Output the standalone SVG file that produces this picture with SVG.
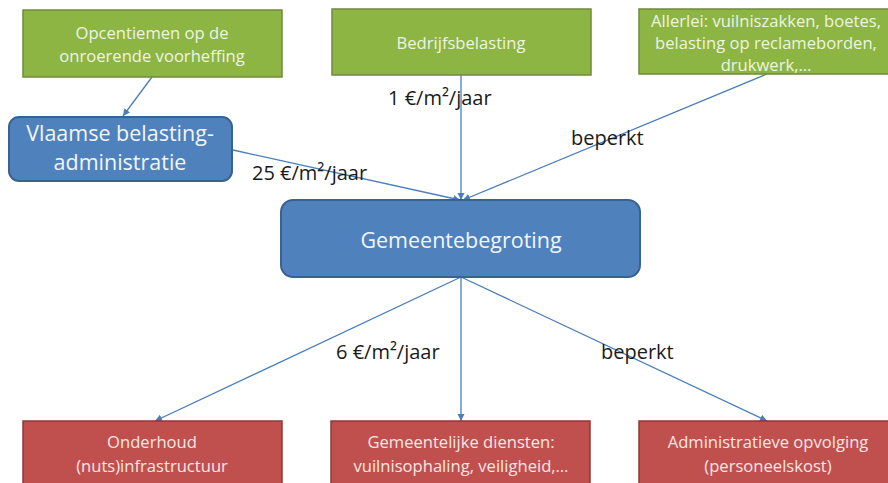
<svg xmlns="http://www.w3.org/2000/svg" width="888" height="483" viewBox="0 0 888 483">
<defs>
<marker id="ah" markerWidth="8" markerHeight="8" refX="7" refY="4" orient="auto" markerUnits="userSpaceOnUse">
<path d="M0,0.5 L7,4 L0,7.5 Z" fill="#4a7ebb"/>
</marker>
<style>
.g{fill:#8db544;stroke:#6f8b3a;stroke-width:1.5}
.b{fill:#4f81bd;stroke:#3a6290;stroke-width:2}
.r{fill:#c0504d;stroke:#8c3836;stroke-width:1.5}
.tg{font-family:"Open Sans","Liberation Sans",sans-serif;font-size:16.6px;fill:#eef4e2;text-anchor:middle}
.tr{font-family:"Open Sans","Liberation Sans",sans-serif;font-size:16.6px;fill:#f8e6e4;text-anchor:middle}
.tb{font-family:"Open Sans","Liberation Sans",sans-serif;font-size:21.5px;fill:#f2f6fb;text-anchor:middle}
.lb{font-family:"Open Sans","Liberation Sans",sans-serif;font-size:20px;fill:#1a1a1a}
.c{stroke:#4a7ebb;stroke-width:1.3;fill:none;marker-end:url(#ah)}
</style>
</defs>
<rect width="888" height="483" fill="#ffffff"/>
<g id="connectors">
<line class="c" x1="152" y1="77" x2="123" y2="116"/>
<line class="c" x1="233" y1="150" x2="460" y2="200"/>
<line class="c" x1="461" y1="75" x2="461" y2="200"/>
<line class="c" x1="767" y1="74" x2="463" y2="200"/>
<line class="c" x1="461" y1="277" x2="155" y2="421"/>
<line class="c" x1="461" y1="277" x2="461" y2="421"/>
<line class="c" x1="461" y1="277" x2="767" y2="421"/>
<text class="lb" x="388" y="105">1 €/m²/jaar</text>
<text class="lb" x="252" y="180">25 €/m²/jaar</text>
<text class="lb" x="571" y="145">beperkt</text>
<text class="lb" x="336" y="359">6 €/m²/jaar</text>
<text class="lb" x="601" y="359">beperkt</text>
</g>
<g id="n1">
<rect class="g" x="23" y="10" width="259" height="67"/>
<text class="tg" x="152" y="39">Opcentiemen op de</text>
<text class="tg" x="152" y="62">onroerende voorheffing</text>
</g>
<g id="n2">
<rect class="g" x="332" y="9" width="259" height="66"/>
<text class="tg" x="461" y="49">Bedrijfsbelasting</text>
</g>
<g id="n3">
<rect class="g" x="639" y="9" width="259" height="65"/>
<text class="tg" x="766" y="27">Allerlei: vuilniszakken, boetes,</text>
<text class="tg" x="766" y="49">belasting op reclameborden,</text>
<text class="tg" x="766" y="71">drukwerk,…</text>
</g>
<g id="n4">
<rect class="b" x="9" y="117" width="223" height="64" rx="10"/>
<text class="tb" x="120" y="141">Vlaamse belasting-</text>
<text class="tb" x="120" y="170">administratie</text>
</g>
<g id="n5">
<rect class="b" x="281" y="200" width="359" height="77" rx="12"/>
<text class="tb" x="461" y="248">Gemeentebegroting</text>
</g>
<g id="n6">
<rect class="r" x="23" y="421" width="259" height="70"/>
<text class="tr" x="152" y="448">Onderhoud</text>
<text class="tr" x="152" y="472">(nuts)infrastructuur</text>
</g>
<g id="n7">
<rect class="r" x="331" y="421" width="259" height="70"/>
<text class="tr" x="461" y="448">Gemeentelijke diensten:</text>
<text class="tr" x="461" y="472">vuilnisophaling, veiligheid,…</text>
</g>
<g id="n8">
<rect class="r" x="639" y="421" width="259" height="70"/>
<text class="tr" x="768" y="448">Administratieve opvolging</text>
<text class="tr" x="768" y="472">(personeelskost)</text>
</g>
</svg>
